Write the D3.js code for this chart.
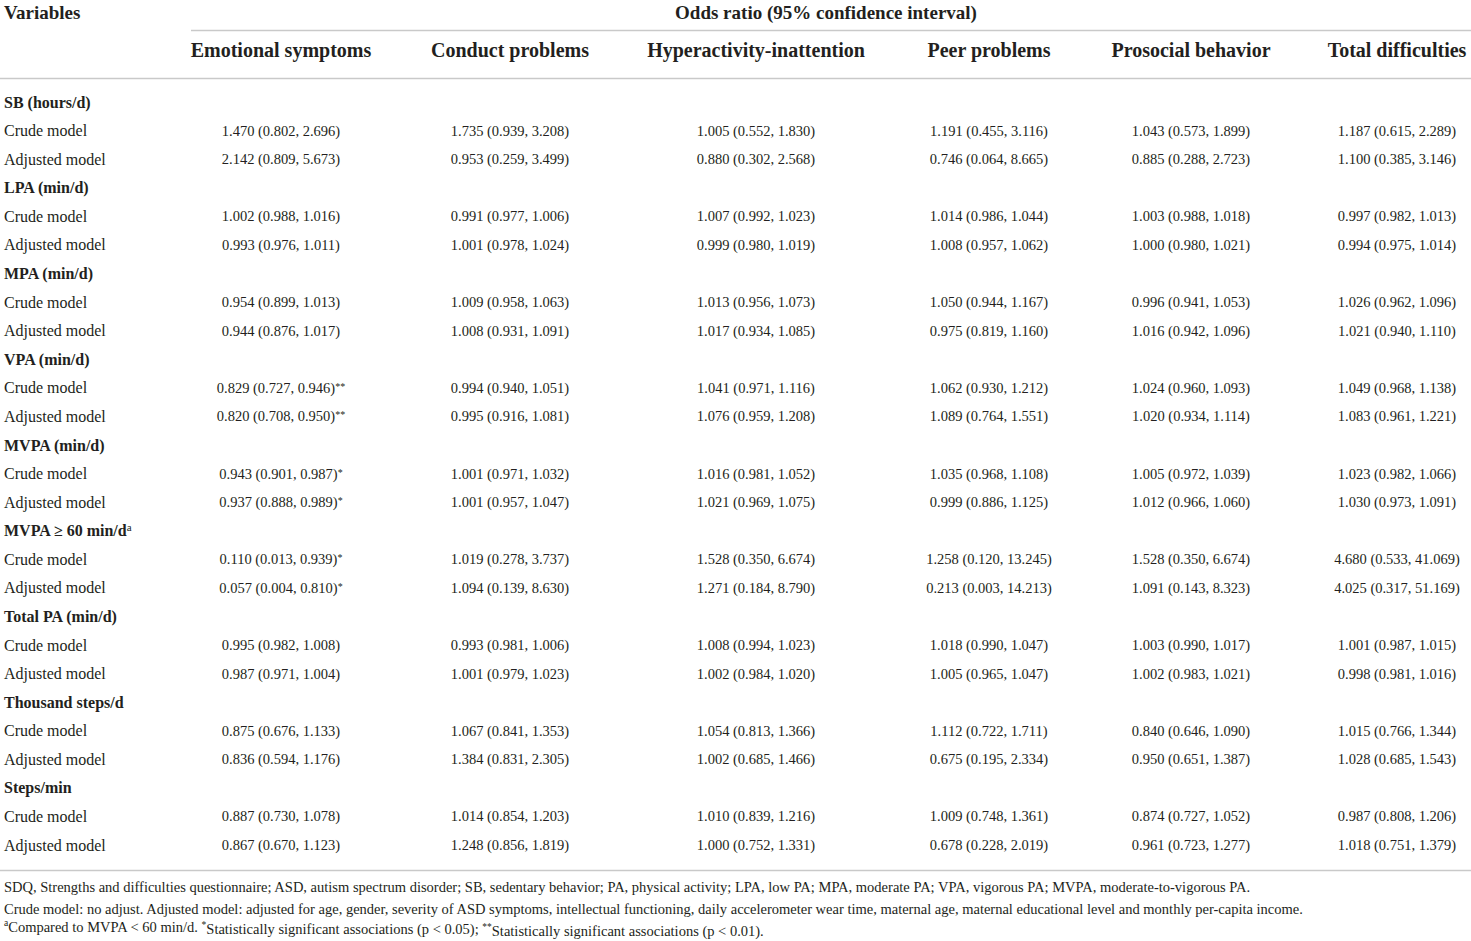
<!DOCTYPE html>
<html>
<head>
<meta charset="utf-8">
<script src="https://cdn.jsdelivr.net/npm/d3@7"></script>
<style>
  html, body { margin: 0; padding: 0; background: #fff; }
  svg { display: block; }
  text { font-family: "Liberation Serif", "Times New Roman", serif; fill: #231f20; }
</style>
</head>
<body>
<svg id="chart" width="1471" height="941"></svg>
<script>
// ---------- DATA ----------
const outcomes = ["Emotional symptoms", "Conduct problems", "Hyperactivity-inattention", "Peer problems", "Prosocial behavior", "Total difficulties"];
const groups = ["SB (hours/d)", "LPA (min/d)", "MPA (min/d)", "VPA (min/d)", "MVPA (min/d)", "MVPA \u2265 60 min/d", "Total PA (min/d)", "Thousand steps/d", "Steps/min"];
const groupSup = ["", "", "", "", "", "a", "", "", ""];
const models = ["Crude model", "Adjusted model"];

// each entry: [odds ratio, lower 95% CI, upper 95% CI]; order: group x model
const emotional = [
  [1.470, 0.802, 2.696], [2.142, 0.809, 5.673],
  [1.002, 0.988, 1.016], [0.993, 0.976, 1.011],
  [0.954, 0.899, 1.013], [0.944, 0.876, 1.017],
  [0.829, 0.727, 0.946], [0.820, 0.708, 0.950],
  [0.943, 0.901, 0.987], [0.937, 0.888, 0.989],
  [0.110, 0.013, 0.939], [0.057, 0.004, 0.810],
  [0.995, 0.982, 1.008], [0.987, 0.971, 1.004],
  [0.875, 0.676, 1.133], [0.836, 0.594, 1.176],
  [0.887, 0.730, 1.078], [0.867, 0.670, 1.123]
];
const conduct = [
  [1.735, 0.939, 3.208], [0.953, 0.259, 3.499],
  [0.991, 0.977, 1.006], [1.001, 0.978, 1.024],
  [1.009, 0.958, 1.063], [1.008, 0.931, 1.091],
  [0.994, 0.940, 1.051], [0.995, 0.916, 1.081],
  [1.001, 0.971, 1.032], [1.001, 0.957, 1.047],
  [1.019, 0.278, 3.737], [1.094, 0.139, 8.630],
  [0.993, 0.981, 1.006], [1.001, 0.979, 1.023],
  [1.067, 0.841, 1.353], [1.384, 0.831, 2.305],
  [1.014, 0.854, 1.203], [1.248, 0.856, 1.819]
];
const hyperactivity = [
  [1.005, 0.552, 1.830], [0.880, 0.302, 2.568],
  [1.007, 0.992, 1.023], [0.999, 0.980, 1.019],
  [1.013, 0.956, 1.073], [1.017, 0.934, 1.085],
  [1.041, 0.971, 1.116], [1.076, 0.959, 1.208],
  [1.016, 0.981, 1.052], [1.021, 0.969, 1.075],
  [1.528, 0.350, 6.674], [1.271, 0.184, 8.790],
  [1.008, 0.994, 1.023], [1.002, 0.984, 1.020],
  [1.054, 0.813, 1.366], [1.002, 0.685, 1.466],
  [1.010, 0.839, 1.216], [1.000, 0.752, 1.331]
];
const peer = [
  [1.191, 0.455, 3.116], [0.746, 0.064, 8.665],
  [1.014, 0.986, 1.044], [1.008, 0.957, 1.062],
  [1.050, 0.944, 1.167], [0.975, 0.819, 1.160],
  [1.062, 0.930, 1.212], [1.089, 0.764, 1.551],
  [1.035, 0.968, 1.108], [0.999, 0.886, 1.125],
  [1.258, 0.120, 13.245], [0.213, 0.003, 14.213],
  [1.018, 0.990, 1.047], [1.005, 0.965, 1.047],
  [1.112, 0.722, 1.711], [0.675, 0.195, 2.334],
  [1.009, 0.748, 1.361], [0.678, 0.228, 2.019]
];
const prosocial = [
  [1.043, 0.573, 1.899], [0.885, 0.288, 2.723],
  [1.003, 0.988, 1.018], [1.000, 0.980, 1.021],
  [0.996, 0.941, 1.053], [1.016, 0.942, 1.096],
  [1.024, 0.960, 1.093], [1.020, 0.934, 1.114],
  [1.005, 0.972, 1.039], [1.012, 0.966, 1.060],
  [1.528, 0.350, 6.674], [1.091, 0.143, 8.323],
  [1.003, 0.990, 1.017], [1.002, 0.983, 1.021],
  [0.840, 0.646, 1.090], [0.950, 0.651, 1.387],
  [0.874, 0.727, 1.052], [0.961, 0.723, 1.277]
];
const total = [
  [1.187, 0.615, 2.289], [1.100, 0.385, 3.146],
  [0.997, 0.982, 1.013], [0.994, 0.975, 1.014],
  [1.026, 0.962, 1.096], [1.021, 0.940, 1.110],
  [1.049, 0.968, 1.138], [1.083, 0.961, 1.221],
  [1.023, 0.982, 1.066], [1.030, 0.973, 1.091],
  [4.680, 0.533, 41.069], [4.025, 0.317, 51.169],
  [1.001, 0.987, 1.015], [0.998, 0.981, 1.016],
  [1.015, 0.766, 1.344], [1.028, 0.685, 1.543],
  [0.987, 0.808, 1.206], [1.018, 0.751, 1.379]
];
// significance markers for the emotional symptoms column (other columns none)
const emotionalSig = ["", "", "", "", "", "", "**", "**", "*", "*", "*", "*", "", "", "", "", "", ""];

const titleText = "Odds ratio (95% confidence interval)";
const footnote1 = "SDQ, Strengths and difficulties questionnaire; ASD, autism spectrum disorder; SB, sedentary behavior; PA, physical activity; LPA, low PA; MPA, moderate PA; VPA, vigorous PA; MVPA, moderate-to-vigorous PA.";
const footnote2 = "Crude model: no adjust. Adjusted model: adjusted for age, gender, severity of ASD symptoms, intellectual functioning, daily accelerometer wear time, maternal age, maternal educational level and monthly per-capita income.";
const footnote3 = [
  {t: "a", sup: true}, {t: "Compared to MVPA < 60 min/d. "},
  {t: "*", sup: true}, {t: "Statistically significant associations (p < 0.05); "},
  {t: "**", sup: true}, {t: "Statistically significant associations (p < 0.01)."}
];

// ---------- LAYOUT ----------
const W = 1471, H = 941;
const svg = d3.select("#chart");
const columnData = [emotional, conduct, hyperactivity, peer, prosocial, total];
const sigData = [emotionalSig, [], [], [], [], []];

const colX = d3.scaleOrdinal().domain(outcomes).range([281, 510, 756, 989, 1191, 1397]);

// rows: group header + 2 model rows per group
const rows = [];
groups.forEach((g, gi) => {
  rows.push({type: "group", label: g, sup: groupSup[gi]});
  models.forEach((m, mi) => rows.push({type: "model", label: m, idx: gi * 2 + mi}));
});
const rowY = d3.scalePoint().domain(d3.range(rows.length)).range([102, 845]);

const fmt = d3.format(".3f");
const lineColor = "#c9c9c9";

// rules
svg.append("line").attr("x1", 191).attr("x2", W).attr("y1", 30.5).attr("y2", 30.5)
  .attr("stroke", lineColor).attr("stroke-width", 1.6);
svg.append("line").attr("x1", 0).attr("x2", W).attr("y1", 78.5).attr("y2", 78.5)
  .attr("stroke", lineColor).attr("stroke-width", 1.6);
svg.append("line").attr("x1", 0).attr("x2", W).attr("y1", 870.5).attr("y2", 870.5)
  .attr("stroke", lineColor).attr("stroke-width", 1.6);

// top headers
svg.append("text").attr("x", 4).attr("y", 12).attr("dy", "0.35em")
  .attr("font-size", 19).attr("font-weight", "bold").text("Variables");
svg.append("text").attr("x", 826).attr("y", 12).attr("dy", "0.35em")
  .attr("text-anchor", "middle").attr("font-size", 19).attr("font-weight", "bold").text(titleText);

svg.append("g").selectAll("text").data(outcomes).join("text")
  .attr("x", d => colX(d)).attr("y", 50).attr("dy", "0.35em")
  .attr("text-anchor", "middle").attr("font-size", 20).attr("font-weight", "bold")
  .text(d => d);

// row labels
const labelG = svg.append("g");
rows.forEach((r, i) => {
  const t = labelG.append("text").attr("x", 4).attr("y", rowY(i)).attr("dy", "0.35em")
    .attr("font-size", 16).attr("font-weight", r.type === "group" ? "bold" : "normal")
    .text(r.label);
  if (r.sup) {
    t.append("tspan").attr("dy", "-0.45em").attr("font-size", 11).attr("font-weight", "normal").text(r.sup);
  }
});

// cells
const cellG = svg.append("g");
outcomes.forEach((o, ci) => {
  const vals = columnData[ci];
  const sig = sigData[ci];
  rows.forEach((r, i) => {
    if (r.type !== "model") return;
    const v = vals[r.idx];
    const t = cellG.append("text").attr("x", colX(o)).attr("y", rowY(i)).attr("dy", "0.35em")
      .attr("text-anchor", "middle").attr("font-size", 14.5)
      .text(`${fmt(v[0])} (${fmt(v[1])}, ${fmt(v[2])})`);
    if (sig[r.idx]) {
      t.append("tspan").attr("dy", "-0.3em").attr("font-size", 10).text(sig[r.idx]);
    }
  });
});

// footnotes
const fnG = svg.append("g");
fnG.append("text").attr("x", 4).attr("y", 887).attr("dy", "0.35em").attr("font-size", 14.5).text(footnote1);
fnG.append("text").attr("x", 4).attr("y", 909).attr("dy", "0.35em").attr("font-size", 14.5).text(footnote2);
const f3 = fnG.append("text").attr("x", 4).attr("y", 930).attr("dy", "0.35em").attr("font-size", 14.5);
let raised = false;
footnote3.forEach(p => {
  const ts = f3.append("tspan").text(p.t);
  if (p.sup && !raised) { ts.attr("dy", "-0.4em").attr("font-size", 9.5); raised = true; }
  else if (!p.sup && raised) { ts.attr("dy", "0.4em"); raised = false; }
  else if (p.sup) { ts.attr("font-size", 9.5); }
});
</script>
</body>
</html>
